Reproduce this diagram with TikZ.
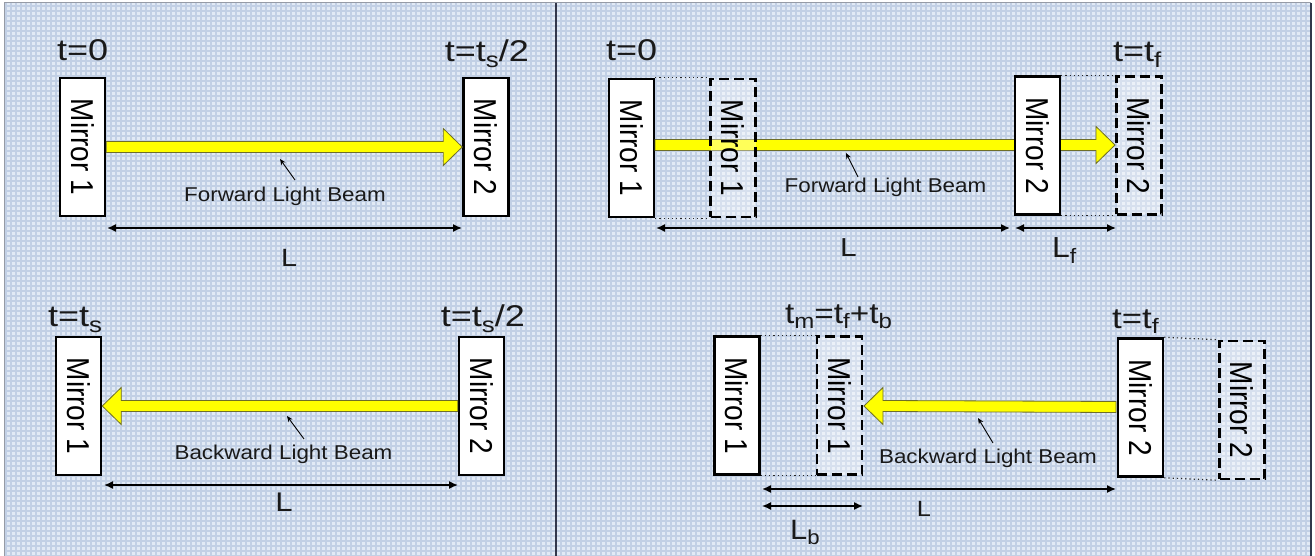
\documentclass[tikz,border=0pt]{standalone}
\usepackage{fontspec}
\setmainfont{Liberation Sans}
\usetikzlibrary{calc,arrows.meta}
\definecolor{bgblue}{RGB}{226,234,245}
\definecolor{gridblue}{RGB}{194,208,229}
\definecolor{beamyellow}{RGB}{255,255,0}
\definecolor{beamedge}{RGB}{110,110,40}
\definecolor{framedark}{RGB}{50,55,75}
\definecolor{framegrey}{RGB}{150,155,165}
\newcommand\mirrortext[1]{\scalebox{1.13}[1]{\rotatebox{-90}{\fontsize{28}{30}\selectfont #1}}}
\newcommand\stretched[3]{\scalebox{#1}[1]{\fontsize{#2}{#2}\selectfont #3}}
\newcommand\sub[1]{\raisebox{-0.2em}{\scalebox{0.72}{#1}}}
\newcommand\lightbeam[3]{%
  \draw[beam] ($(#1)+(0,-5.5)$) -- ($(#2)+(#3,-5.5)$) -- ($(#2)+(#3,-18.5)$) -- (#2)
    -- ($(#2)+(#3,18.5)$) -- ($(#2)+(#3,5.5)$) -- ($(#1)+(0,5.5)$) -- cycle;}
\tikzset{
  mirror/.style={draw=black, line width=2.5pt, fill=white, minimum width=45pt,
    minimum height=138pt, inner sep=0pt},
  ghost/.style={draw=black, line width=2.5pt, dash pattern=on 10pt off 5pt, fill=white,
    fill opacity=0.35, text opacity=1, minimum width=45pt, minimum height=138pt, inner sep=0pt},
  dotline/.style={line width=1.2pt, black!85, dash pattern=on 1.2pt off 3pt},
  dim/.style={line width=1.5pt, {Latex[length=9pt,width=8pt]}-{Latex[length=9pt,width=8pt]}},
  pointer/.style={line width=0.9pt, -{Stealth[length=6pt,width=5pt]}},
  beam/.style={fill=beamyellow, draw=beamedge, line width=0.8pt, line join=miter},
  txt/.style={inner sep=0pt, text=black!90},
}
\begin{document}
\begin{tikzpicture}[x=1pt, y=-1pt]
\useasboundingbox (0,0) rectangle (1315,556);
\fill[white] (0,0) rectangle (1315,556);
\fill[bgblue] (4,3) rectangle (1311,556);
\foreach \gx in {6,11,...,1311} \draw[gridblue, line width=1.2pt] (\gx,3) -- (\gx,556);
\foreach \gy in {6,11,...,556} \draw[gridblue, line width=1.2pt] (4,\gy) -- (1311,\gy);
\draw[framegrey, line width=1pt] (4,556) -- (4,3) -- (1311,3);
\draw[framedark, line width=2pt] (1311,3) -- (1311,556);
\draw[framedark, line width=2pt] (555.5,3) -- (555.5,556);

% ---------- top-left ----------
\node[mirror] (m1a) at (82.5,147) {\mirrortext{Mirror 1}};
\node[mirror] (m2a) at (486,147) {\mirrortext{Mirror 2}};
\lightbeam{m1a.east}{m2a.west}{-19}
\node[txt, anchor=base west] (ta1) at (57,61) {\stretched{1.2}{30}{t=0}};
\node[txt, anchor=base east] (ta2) at (529,62) {\stretched{1.2}{30}{t=t\sub{s}/2}};
\node[txt, anchor=base] (fa) at (285,202) {\stretched{1.12}{20}{Forward Light Beam}};
\coordinate (pa0) at (295,180); \coordinate (pa1) at (280,159);
\draw[pointer] (pa0) -- (pa1);
\coordinate (da0) at (107,228); \coordinate (da1) at (462,228);
\draw[dim] (da0) -- (da1);
\node[txt, anchor=base] (la) at (289,266) {\stretched{1.15}{25}{L}};

% ---------- bottom-left ----------
\node[mirror] (m1b) at (78.5,406) {\mirrortext{Mirror 1}};
\node[mirror] (m2b) at (481.5,406) {\mirrortext{Mirror 2}};
\lightbeam{m2b.west}{m1b.east}{19}
\node[txt, anchor=base west] (tb1) at (48,326) {\stretched{1.2}{30}{t=t\sub{s}}};
\node[txt, anchor=base east] (tb2) at (525,326) {\stretched{1.2}{30}{t=t\sub{s}/2}};
\node[txt, anchor=base] (fb) at (283.5,459) {\stretched{1.12}{20}{Backward Light Beam}};
\coordinate (pb0) at (304,439); \coordinate (pb1) at (287,416);
\draw[pointer] (pb0) -- (pb1);
\coordinate (db0) at (104,485); \coordinate (db1) at (458,485);
\draw[dim] (db0) -- (db1);
\node[txt, anchor=base] (lb) at (284,511) {\stretched{1.15}{27}{L}};

% ---------- top-right ----------
\node[mirror] (m1c) at (631.5,148) {\mirrortext{Mirror 1}};
\coordinate (bc0) at (655,145); \coordinate (bc1) at (1115,145);
\lightbeam{bc0}{bc1}{-19}
\node[ghost] (g1c) at (733,148) {\mirrortext{Mirror 1}};
\node[mirror] (m2c) at (1037.5,145.5) {\mirrortext{Mirror 2}};
\node[ghost] (g2c) at (1139,145.5) {\mirrortext{Mirror 2}};
\draw[dotline] (m1c.north east) -- (g1c.north west);
\draw[dotline] (m1c.south east) -- (g1c.south west);
\draw[dotline] (m2c.north east) -- (g2c.north west);
\draw[dotline] (m2c.south east) -- (g2c.south west);
\node[txt, anchor=base west] (tc1) at (606,61) {\stretched{1.2}{30}{t=0}};
\node[txt, anchor=base west] (tc2) at (1113,62) {\stretched{1.2}{30}{t=t\sub{f}}};
\node[txt, anchor=base] (fc) at (885.5,193) {\stretched{1.12}{20}{Forward Light Beam}};
\coordinate (pc0) at (858,177); \coordinate (pc1) at (846,153);
\draw[pointer] (pc0) -- (pc1);
\coordinate (dc0) at (656,228); \coordinate (dc1) at (1010,228);
\coordinate (dc2) at (1015,228); \coordinate (dc3) at (1116,228);
\draw[dim] (dc0) -- (dc1);
\draw[dim] (dc2) -- (dc3);
\node[txt, anchor=base] (lc) at (848.5,257) {\stretched{1.15}{26}{L}};
\node[txt, anchor=base west] (lfc) at (1052,258) {\stretched{1.1}{29}{L\sub{f}}};

% ---------- bottom-right ----------
\node[mirror] (m1d) at (737,405.5) {\mirrortext{Mirror 1}};
\node[ghost] (g1d) at (839.5,405.5) {\mirrortext{Mirror 1}};
\node[mirror] (m2d) at (1140.5,407.5) {\mirrortext{Mirror 2}};
\node[ghost] (g2d) at (1242,410) {\mirrortext{Mirror 2}};
\coordinate (bd0) at (1116,407); \coordinate (bd1) at (864,406);
\lightbeam{bd0}{bd1}{19}
\draw[dotline] (m1d.north east) -- (g1d.north west);
\draw[dotline] (m1d.south east) -- (g1d.south west);
\draw[dotline] (m2d.north east) -- (g2d.north west);
\draw[dotline] (m2d.south east) -- (g2d.south west);
\node[txt, anchor=base west] (td1) at (785,323) {\stretched{1.15}{29}{t\sub{m}=t\sub{f}+t\sub{b}}};
\node[txt, anchor=base west] (td2) at (1112,328) {\stretched{1.2}{29}{t=t\sub{f}}};
\node[txt, anchor=base] (fd) at (988,463) {\stretched{1.12}{20}{Backward Light Beam}};
\coordinate (pd0) at (993,443); \coordinate (pd1) at (978,418);
\draw[pointer] (pd0) -- (pd1);
\coordinate (dd0) at (762,489); \coordinate (dd1) at (1116,489);
\coordinate (dd2) at (762,506); \coordinate (dd3) at (863,506);
\draw[dim] (dd0) -- (dd1);
\draw[dim] (dd2) -- (dd3);
\node[txt, anchor=base] (ld) at (924,516) {\stretched{1.15}{22}{L}};
\node[txt, anchor=base west] (lbd) at (790,539) {\stretched{1.1}{28}{L\sub{b}}};
\end{tikzpicture}
\end{document}
